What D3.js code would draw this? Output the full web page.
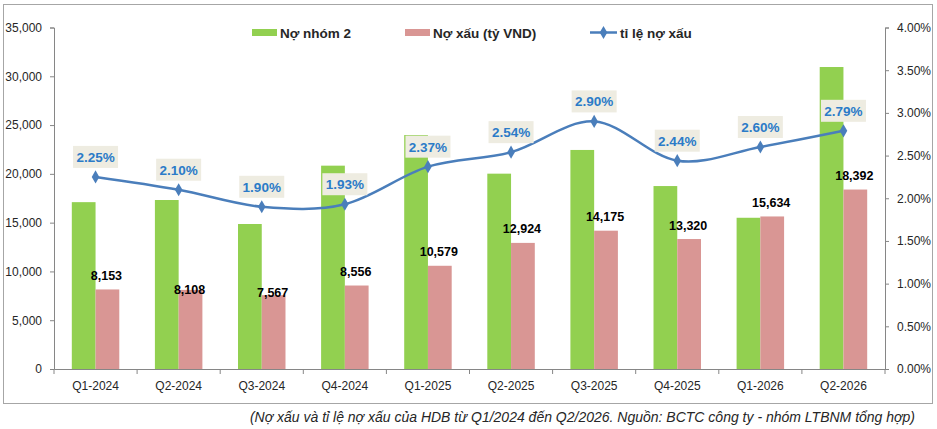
<!DOCTYPE html>
<html>
<head>
<meta charset="utf-8">
<script src="https://cdn.jsdelivr.net/npm/d3@7"></script>
<style>
html,body{margin:0;padding:0;background:#fff;}
svg{display:block;font-family:"Liberation Sans",Arial,sans-serif;}
</style>
</head>
<body>
<svg id="chart" width="937" height="429"></svg>
<script>
// ---- data ----
const categories = ["Q1-2024","Q2-2024","Q3-2024","Q4-2024","Q1-2025","Q2-2025","Q3-2025","Q4-2025","Q1-2026","Q2-2026"];
const group2Debt = [17100, 17320, 14860, 20840, 23980, 20020, 22450, 18750, 15500, 30950];
const badDebt = [8153, 8108, 7567, 8556, 10579, 12924, 14175, 13320, 15634, 18392];
const badDebtRatio = [0.0225, 0.0210, 0.0190, 0.0193, 0.0237, 0.0254, 0.0290, 0.0244, 0.0260, 0.0279];
const leftTicks = [0, 5000, 10000, 15000, 20000, 25000, 30000, 35000];
const rightTicks = [0, 0.005, 0.01, 0.015, 0.02, 0.025, 0.03, 0.035, 0.04];
const seriesNames = ["Nợ nhóm 2", "Nợ xấu (tỷ VND)", "tỉ lệ nợ xấu"];
const caption = "(Nợ xấu và tỉ lệ nợ xấu của HDB từ Q1/2024 đến Q2/2026. Nguồn: BCTC công ty - nhóm LTBNM tổng hợp)";

// ---- layout / style ----
const plot = {left: 54, right: 885, top: 27.5, bottom: 369};
const colors = {green: "#92D050", pink: "#D99694", line: "#4A7EBB", pctText: "#2B7BC8", pctBg: "#EEECE1", axis: "#868686", text: "#262626"};
const barLabelNudge = [0, 14, 11, 0, 0, 0, 0, 0, 0, 0];

const svg = d3.select("#chart");

// chart border
svg.append("rect").attr("x", 3.5).attr("y", 4.5).attr("width", 929).attr("height", 399)
  .attr("fill", "#fff").attr("stroke", "#A6A6A6").attr("stroke-width", 1);

const x = d3.scaleBand().domain(categories).range([plot.left, plot.right]).paddingInner(0).paddingOuter(0);
const xSub = d3.scaleBand().domain(["g","p"]).range([0, x.bandwidth()]).paddingInner(0).paddingOuter(0.75);
const yL = d3.scaleLinear().domain([0, 35000]).range([plot.bottom, plot.top]);
const yR = d3.scaleLinear().domain([0, 0.04]).range([plot.bottom, plot.top]);

// bars
const gBars = svg.append("g");
gBars.selectAll("rect.g2").data(group2Debt).join("rect")
  .attr("x", (d,i) => x(categories[i]) + xSub("g"))
  .attr("y", d => yL(d))
  .attr("width", xSub.bandwidth())
  .attr("height", d => yL(0) - yL(d))
  .attr("fill", colors.green);
gBars.selectAll("rect.bd").data(badDebt).join("rect")
  .attr("x", (d,i) => x(categories[i]) + xSub("p"))
  .attr("y", d => yL(d))
  .attr("width", xSub.bandwidth())
  .attr("height", d => yL(0) - yL(d))
  .attr("fill", colors.pink);

// axes
const axL = svg.append("g").attr("transform", `translate(${plot.left},0)`)
  .call(d3.axisLeft(yL).tickValues(leftTicks).tickFormat(d3.format(",")).tickSize(4).tickPadding(8));
const axR = svg.append("g").attr("transform", `translate(${plot.right},0)`)
  .call(d3.axisRight(yR).tickValues(rightTicks).tickFormat(d3.format(".2%")).tickSize(4).tickPadding(8));
const axB = svg.append("g").attr("transform", `translate(0,${plot.bottom})`)
  .call(d3.axisBottom(x).tickSize(0).tickPadding(12));
// category boundary ticks
const bounds = categories.map(c => x(c)).concat([x(categories[categories.length-1]) + x.bandwidth()]);
svg.append("g").selectAll("line").data(bounds).join("line")
  .attr("x1", d => d).attr("x2", d => d).attr("y1", plot.bottom).attr("y2", plot.bottom + 5)
  .attr("stroke", colors.axis);
[axL, axR, axB].forEach(a => {
  a.selectAll(".domain").attr("stroke", colors.axis);
  a.selectAll(".tick line").attr("stroke", colors.axis);
  a.selectAll("text").attr("fill", colors.text).attr("font-size", 12)
    .attr("font-family", '"Liberation Sans",Arial,sans-serif');
});

// line
const line = d3.line()
  .x((d,i) => x(categories[i]) + x.bandwidth()/2)
  .y(d => yR(d))
  .curve(d3.curveCardinal.tension(0));
svg.append("path").datum(badDebtRatio).attr("d", line)
  .attr("fill", "none").attr("stroke", colors.line).attr("stroke-width", 2.5);
const diamond = d3.symbol().type(d3.symbolDiamond).size(50);
svg.append("g").selectAll("path").data(badDebtRatio).join("path")
  .attr("d", diamond)
  .attr("transform", (d,i) => `translate(${x(categories[i]) + x.bandwidth()/2},${yR(d)})`)
  .attr("fill", colors.line);

// percent labels
const pctFmt = d3.format(".2%");
const pl = svg.append("g").selectAll("g").data(badDebtRatio).join("g")
  .attr("transform", (d,i) => `translate(${x(categories[i]) + x.bandwidth()/2},${yR(d) - 20})`);
pl.append("rect").attr("x", -22.5).attr("y", -11).attr("width", 45).attr("height", 22).attr("fill", colors.pctBg);
pl.append("text").text(d => pctFmt(d)).attr("text-anchor", "middle").attr("dy", "0.36em")
  .attr("font-size", 13.5).attr("font-weight", "bold").attr("fill", colors.pctText);

// bar value labels
svg.append("g").selectAll("text").data(badDebt).join("text")
  .attr("x", (d,i) => x(categories[i]) + xSub("p") + xSub.bandwidth()/2 - 1)
  .attr("y", (d,i) => yL(d) - 14 + barLabelNudge[i])
  .attr("dy", "0.36em")
  .attr("text-anchor", "middle")
  .attr("font-size", 12.5).attr("font-weight", "bold").attr("fill", "#000")
  .text(d => d3.format(",")(d));

// legend
const lg = svg.append("g").attr("font-size", 13.5).attr("font-weight", "bold").attr("fill", colors.text);
lg.append("rect").attr("x", 252).attr("y", 29).attr("width", 25).attr("height", 7).attr("fill", colors.green);
lg.append("text").attr("x", 280).attr("y", 33).attr("dy", "0.36em").text(seriesNames[0]);
lg.append("rect").attr("x", 405).attr("y", 29).attr("width", 25).attr("height", 7).attr("fill", colors.pink);
lg.append("text").attr("x", 433).attr("y", 33).attr("dy", "0.36em").text(seriesNames[1]);
lg.append("line").attr("x1", 590).attr("x2", 617).attr("y1", 32.5).attr("y2", 32.5)
  .attr("stroke", colors.line).attr("stroke-width", 2.5);
lg.append("path").attr("d", diamond).attr("transform", "translate(603.5,32.5)").attr("fill", colors.line);
lg.append("text").attr("x", 620).attr("y", 33).attr("dy", "0.36em").text(seriesNames[2]);

// caption
svg.append("text").attr("x", 915).attr("y", 417).attr("dy", "0.36em").attr("text-anchor", "end")
  .attr("font-size", 14).attr("font-style", "italic").attr("fill", colors.text).text(caption);
</script>
</body>
</html>
